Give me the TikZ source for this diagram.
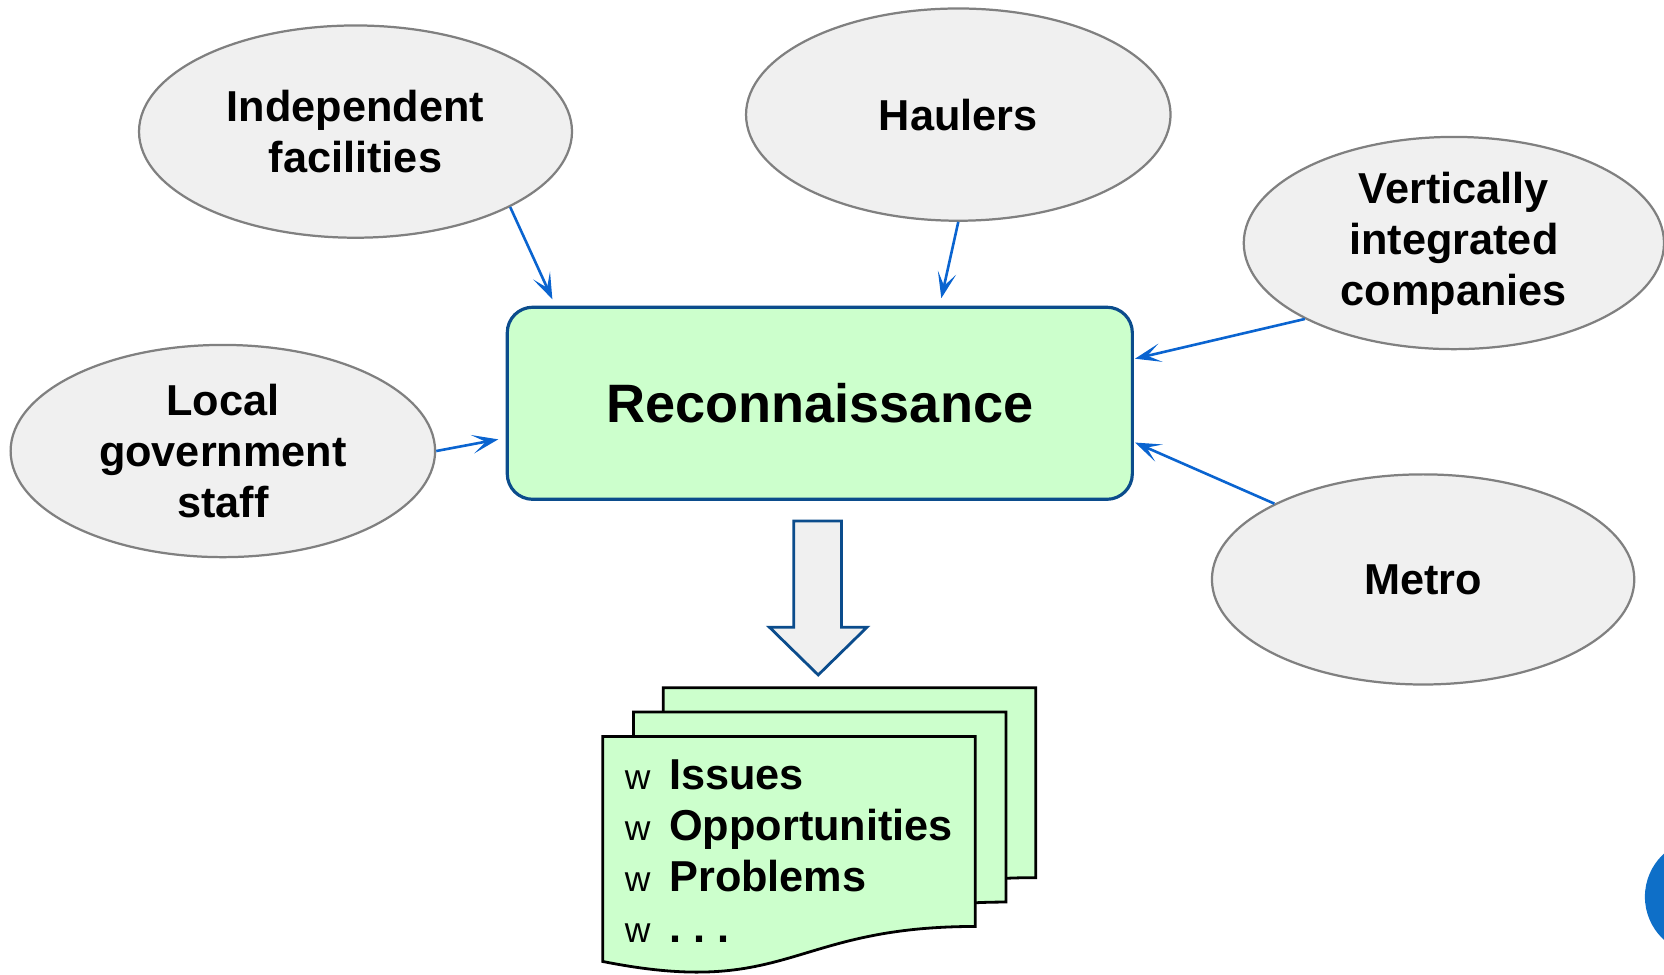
\documentclass[tikz,border=0pt]{standalone}
\usepackage{fontspec}
\setmainfont{Liberation Sans}
\usetikzlibrary{shapes.geometric,arrows.meta}
\definecolor{ovalfill}{HTML}{F0F0F0}
\definecolor{ovalline}{HTML}{808080}
\definecolor{paleGreen}{HTML}{CCFFCC}
\definecolor{boxBlue}{HTML}{0B4C8C}
\definecolor{feedBlue}{HTML}{0A64D0}
\definecolor{dotBlue}{HTML}{0E6FC8}
\tikzset{
  every picture/.style={font={\bfseries\fontsize{11.6}{13.7}\selectfont},
    >={Stealth[length=7pt,width=5pt,inset=3.6pt]}}}

\begin{document}
\begin{tikzpicture}[
    stakeholder/.style={
      ellipse,
      draw=ovalline,
      fill=ovalfill,
      line width=0.6pt,
      inner sep=0pt,
      align=center},
    reconbox/.style={
      rectangle,
      rounded corners=0.24cm,
      draw=boxBlue,
      fill=paleGreen,
      line width=0.85pt,
      minimum width=5.89cm,
      minimum height=1.81cm,
      font={\bfseries\fontsize{14.5}{17}\selectfont}},
    feed/.style={->, draw=feedBlue, line width=0.7pt},
    docpage/.style={draw=black, fill=paleGreen, line width=0.75pt},
    bigarrow/.style={draw=boxBlue, fill=ovalfill, line width=0.75pt},
    bullet/.style={anchor=base west, inner sep=0pt,
      font={\mdseries\fontsize{9.5}{11}\selectfont}},
    itemtext/.style={anchor=base west, inner sep=0pt}]

    \useasboundingbox (0,0) rectangle (15.68,-9.18);

    % stakeholders
    \node[stakeholder, minimum width=4.08cm, minimum height=2cm] (indep) at (3.35,-1.24) {Independent\\facilities};
    \node[stakeholder, minimum width=4cm, minimum height=2cm] (haulers) at (9.03,-1.08) {Haulers};
    \node[stakeholder, minimum width=3.96cm, minimum height=2cm] (vertical) at (13.70,-2.29) {Vertically\\integrated\\companies};
    \node[stakeholder, minimum width=4cm, minimum height=2cm] (local) at (2.10,-4.25) {Local\\government\\staff};
    \node[stakeholder, minimum width=3.98cm, minimum height=1.98cm] (metro) at (13.41,-5.46) {Metro};

    \node[reconbox] (recon) at (7.725,-3.80) {Reconnaissance};

    % connectors
    \draw[feed] (indep.-26) -- ([xshift=0.44cm,yshift=0.06cm]recon.north west);
    \draw[feed] (haulers.south) -- ([xshift=1.145cm,yshift=0.07cm]recon.north);
    \draw[feed] (vertical.207) -- ([xshift=0.01cm,yshift=0.42cm]recon.east);
    \draw[feed] (metro.153) -- ([xshift=0.01cm,yshift=-0.37cm]recon.east);
    \draw[feed] (local.east) -- ([xshift=-0.07cm,yshift=-0.34cm]recon.west);

    % big arrow
    \draw[bigarrow] (7.48,-4.91) -- (7.93,-4.91) -- (7.93,-5.91) -- (8.17,-5.91)
      -- (7.71,-6.36) -- (7.25,-5.91) -- (7.48,-5.91) -- cycle;

    % stack of pages
    \foreach \px/\py in {6.25/-6.48, 5.97/-6.71, 5.68/-6.94} {
      \draw[docpage] (\px,\py) -- ++(3.51,0) -- ++(0,-1.79)
        .. controls ++(-1.75,0) and ++(1.76,-0.35) .. ++(-3.51,-0.33) -- cycle;
    }

    \foreach \txt [count=\i] in {Issues, Opportunities, Problems, {.\ .\ .}} {
      \node[bullet] (bul\i) at (5.88,{-7.44-0.48*(\i-1)}) {w};
      \node[itemtext] (item\i) at (6.30,{-7.44-0.48*(\i-1)}) {\txt};
    }

    \fill[dotBlue] (16.05,-8.45) circle (0.55);
\end{tikzpicture}
\end{document}
